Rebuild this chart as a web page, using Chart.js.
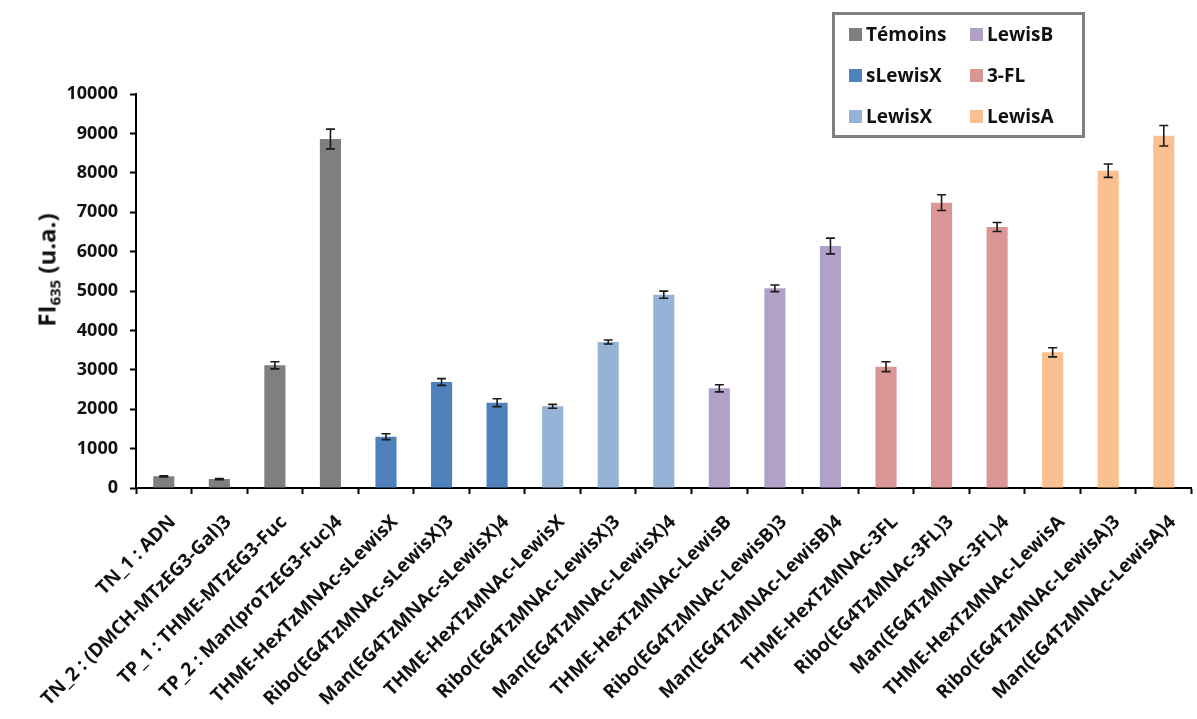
<!DOCTYPE html>
<html>
<head>
<meta charset="utf-8">
<script src="https://cdn.jsdelivr.net/npm/chart.js@4"></script>
<style>
    html, body { margin: 0; padding: 0; background: #fff; }
    #wrap { position: relative; width: 1197px; height: 719px; }
    #legend {
        position: absolute; left: 832px; top: 12px; width: 253px; height: 126px;
        box-sizing: border-box; border: 3px solid #7f7f7f;
        font-family: 'Open Sans'; font-weight: bold; font-size: 19px; color: #111;
    }
    .item { position: absolute; height: 26px; line-height: 26px; display: flex; align-items: center; white-space: nowrap; }
    .sw { width: 13px; height: 13px; margin-right: 4px; }
    #ytitle {
        position: absolute; left: 47px; top: 270px; white-space: nowrap;
        transform: translate(-50%, -50%) rotate(-90deg);
        font: bold 24px 'Open Sans'; color: #111;
    }
    #ytitle sub { font-size: 15px; vertical-align: -5px; }
</style>
</head>
<body>
<div id="wrap">
    <canvas id="fiChart" width="1197" height="719"></canvas>
    <div id="ytitle">FI<sub>635</sub> (u.a.)</div>
    <div id="legend"></div>
</div>
<script>
// categories (x axis)
const labels = [
    'TN_1 : ADN',
    'TN_2 : (DMCH-MTzEG3-Gal)3',
    'TP_1 : THME-MTzEG3-Fuc',
    'TP_2 : Man(proTzEG3-Fuc)4',
    'THME-HexTzMNAc-sLewisX',
    'Ribo(EG4TzMNAc-sLewisX)3',
    'Man(EG4TzMNAc-sLewisX)4',
    'THME-HexTzMNAc-LewisX',
    'Ribo(EG4TzMNAc-LewisX)3',
    'Man(EG4TzMNAc-LewisX)4',
    'THME-HexTzMNAc-LewisB',
    'Ribo(EG4TzMNAc-LewisB)3',
    'Man(EG4TzMNAc-LewisB)4',
    'THME-HexTzMNAc-3FL',
    'Ribo(EG4TzMNAc-3FL)3',
    'Man(EG4TzMNAc-3FL)4',
    'THME-HexTzMNAc-LewisA',
    'Ribo(EG4TzMNAc-LewisA)3',
    'Man(EG4TzMNAc-LewisA)4'
];

// FI635 values and error bars
const values = [297, 228, 3114, 8858, 1302, 2690, 2165, 2073, 3706, 4906, 2530, 5068, 6142, 3079, 7242, 6624, 3444, 8053, 8942];
const errors = [15, 15, 90, 250, 75, 85, 100, 50, 50, 90, 90, 85, 200, 125, 200, 115, 115, 170, 260];

// groups (legend) and which group each bar belongs to
const groupNames = ['Témoins', 'sLewisX', 'LewisX', 'LewisB', '3-FL', 'LewisA'];
const groupColors = ['#7f7f7f', '#4f81bd', '#95b3d7', '#b1a0c7', '#da9694', '#fac090'];
const groupOf = [0, 0, 0, 0, 1, 1, 1, 2, 2, 2, 3, 3, 3, 4, 4, 4, 5, 5, 5];

// y axis range
const yMin = 0, yMax = 10000, yStep = 1000;

// legend, two columns of three
const legendEl = document.getElementById('legend');
groupNames.forEach((name, i) => {
    const item = document.createElement('div');
    item.className = 'item';
    item.style.left = (i < 3 ? 14 : 135) + 'px';
    item.style.top = (6 + (i % 3) * 41) + 'px';
    item.innerHTML = '<span class="sw" style="background:' + groupColors[i] + '"></span>' + name;
    legendEl.appendChild(item);
});

// error bars drawn on top of bars
const errorBars = {
    id: 'errorBars',
    afterDatasetsDraw(chart) {
        const ctx = chart.ctx;
        const y = chart.scales.y;
        const meta = chart.getDatasetMeta(0);
        ctx.save();
        ctx.strokeStyle = '#1a1a1a';
        ctx.lineWidth = 1.6;
        meta.data.forEach((bar, i) => {
            const top = y.getPixelForValue(values[i] + errors[i]);
            const bot = y.getPixelForValue(values[i] - errors[i]);
            ctx.beginPath();
            ctx.moveTo(bar.x, top); ctx.lineTo(bar.x, bot);
            ctx.moveTo(bar.x - 4.5, top); ctx.lineTo(bar.x + 4.5, top);
            ctx.moveTo(bar.x - 4.5, bot); ctx.lineTo(bar.x + 4.5, bot);
            ctx.stroke();
        });
        ctx.restore();
    }
};

const ctx = document.getElementById('fiChart').getContext('2d');
new Chart(ctx, {
    type: 'bar',
    data: {
        labels: labels,
        datasets: [{
            data: values,
            backgroundColor: groupOf.map(g => groupColors[g]),
            categoryPercentage: 1,
            barPercentage: 0.38
        }]
    },
    options: {
        responsive: false,
        animation: false,
        layout: { padding: { top: 94, right: 4, left: 0, bottom: 0 } },
        plugins: { legend: { display: false }, tooltip: { enabled: false } },
        scales: {
            x: {
                grid: { display: true, drawOnChartArea: false, tickLength: 6, tickWidth: 2, tickColor: '#000' },
                border: { color: '#000', width: 2 },
                ticks: {
                    autoSkip: false, maxRotation: 45, minRotation: 45, padding: 17, labelOffset: 9,
                    color: '#111', font: { family: 'Open Sans', weight: 'bold', size: 19 }
                },
                afterFit(scale) { scale.height = 231; }
            },
            y: {
                min: yMin, max: yMax,
                grid: { display: true, drawOnChartArea: false, tickLength: 6, tickWidth: 2, tickColor: '#000' },
                border: { color: '#000', width: 2 },
                ticks: {
                    stepSize: yStep, padding: 12, color: '#111',
                    font: { family: 'Open Sans', weight: 'bold', size: 18 },
                    callback: v => String(v)
                },
                afterFit(scale) { scale.width = 136; }
            }
        }
    },
    plugins: [errorBars]
});
</script>
</body>
</html>
